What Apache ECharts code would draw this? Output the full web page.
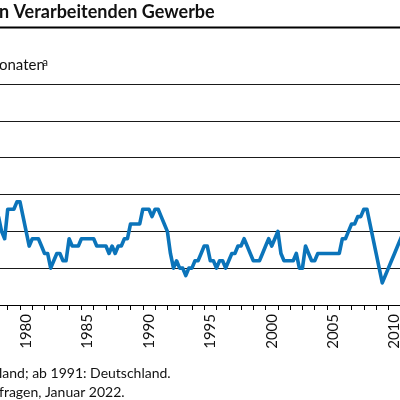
<!DOCTYPE html>
<html>
<head>
<meta charset="utf-8">
<script src="https://cdn.jsdelivr.net/npm/echarts/dist/echarts.min.js"></script>
<style>
html, body { margin: 0; padding: 0; background: #fff; overflow: hidden; }
#main { width: 400px; height: 400px; }
</style>
</head>
<body>
<div id="main"></div>
<script>
// Jahre auf der x-Achse, jedes 5. Jahr beschriftet
var years = [1978, 1979, 1980, 1981, 1982, 1983, 1984, 1985, 1986, 1987, 1988, 1989,
    1990, 1991, 1992, 1993, 1994, 1995, 1996, 1997, 1998, 1999, 2000, 2001,
    2002, 2003, 2004, 2005, 2006, 2007, 2008, 2009, 2010, 2011];
// Quartalswerte in Monaten, ab 1978 Q2
var firstQuarter = 1978.25;
var months = [
    3.2, 3.0, 2.9,
    3.3, 3.3, 3.3, 3.4,
    3.4, 3.2, 3.0, 2.8,
    2.9, 2.9, 2.9, 2.8,
    2.7, 2.7, 2.5, 2.6,
    2.7, 2.7, 2.6, 2.6,
    2.9, 2.8, 2.8, 2.8,
    2.9, 2.9, 2.9, 2.9,
    2.9, 2.8, 2.8, 2.8,
    2.8, 2.7, 2.8, 2.7,
    2.8, 2.8, 2.9, 2.9,
    3.1, 3.1, 3.1, 3.1,
    3.3, 3.3, 3.3, 3.2,
    3.3, 3.3, 3.2, 3.1,
    3.0, 2.7, 2.5, 2.6,
    2.5, 2.5, 2.4, 2.5,
    2.5, 2.6, 2.6, 2.7,
    2.8, 2.8, 2.6, 2.6,
    2.5, 2.6, 2.6, 2.5,
    2.6, 2.7, 2.7, 2.8,
    2.8, 2.9, 2.8, 2.7,
    2.6, 2.6, 2.6, 2.7,
    2.8, 2.9, 2.8, 2.9,
    3.0, 2.7, 2.6, 2.6,
    2.6, 2.6, 2.7, 2.5,
    2.5, 2.8, 2.7, 2.6,
    2.6, 2.7, 2.7, 2.7,
    2.7, 2.7, 2.7, 2.7,
    2.7, 2.9, 2.9, 3.0,
    3.1, 3.1, 3.2, 3.2,
    3.3, 3.3, 3.1, 2.9,
    2.7, 2.5, 2.3, 2.4,
    2.5, 2.6, 2.7, 2.8,
    2.9, 3.0
];
var titleText = "n Verarbeitenden Gewerbe";
var unitText = "onaten";
var noteLines = ["land; ab 1991: Deutschland.", "fragen, Januar 2022."];

var font = "Lato";
var chart = echarts.init(document.getElementById("main"));

var points = [];
for (var i = 0; i < months.length; i++) {
    points.push([firstQuarter + i * 0.25, months[i]]);
}

var option = {
    backgroundColor: "#fff",
    animation: false,
    grid: {
        left: -4.56,
        right: -12.96,
        top: 84,
        bottom: 95,
        outerBoundsMode: "none",
        containLabel: false
    },
    xAxis: [
        {
            type: "category",
            data: years,
            boundaryGap: true,
            axisLine: { lineStyle: { color: "#000", width: 1 } },
            axisTick: { show: true, interval: 0, length: 5, lineStyle: { color: "#000", width: 1 } },
            axisLabel: {
                interval: function (index, value) {
                    return Number(value) % 5 === 0;
                },
                rotate: 90,
                margin: 9,
                color: "#111",
                fontFamily: font,
                fontSize: 15
            },
            splitLine: { show: false }
        },
        {
            type: "value",
            min: 1978,
            max: 2012,
            show: false
        }
    ],
    yAxis: {
        type: "value",
        min: 2,
        max: 5,
        interval: 0.5,
        axisLine: { show: false },
        axisTick: { show: false },
        axisLabel: { show: false },
        splitLine: { lineStyle: { color: "#1a1a1a", width: 1 } }
    },
    series: [
        {
            type: "line",
            xAxisIndex: 1,
            data: points,
            showSymbol: false,
            clip: false,
            lineStyle: { color: "#0b74ba", width: 3.6, join: "round" }
        }
    ],
    graphic: [
        {
            type: "text",
            x: -1,
            y: 3,
            style: { text: titleText, font: "bold 18px " + font, fill: "#111", verticalAlign: "top" }
        },
        {
            type: "line",
            shape: { x1: 0, y1: 27.5, x2: 400, y2: 27.5 },
            style: { stroke: "#000", lineWidth: 2 }
        },
        {
            type: "text",
            x: -1,
            y: 58,
            style: { text: unitText, font: "15px " + font, fill: "#111", verticalAlign: "top" }
        },
        {
            type: "text",
            x: 42.5,
            y: 57,
            style: { text: "a", font: "11px " + font, fill: "#111", verticalAlign: "top" }
        },
        {
            type: "text",
            x: -1,
            y: 366,
            style: { text: noteLines[0], font: "14px " + font, fill: "#111", verticalAlign: "top" }
        },
        {
            type: "text",
            x: -1,
            y: 385,
            style: { text: noteLines[1], font: "14px " + font, fill: "#111", verticalAlign: "top" }
        }
    ]
};
option && chart.setOption(option);
</script>
</body>
</html>
